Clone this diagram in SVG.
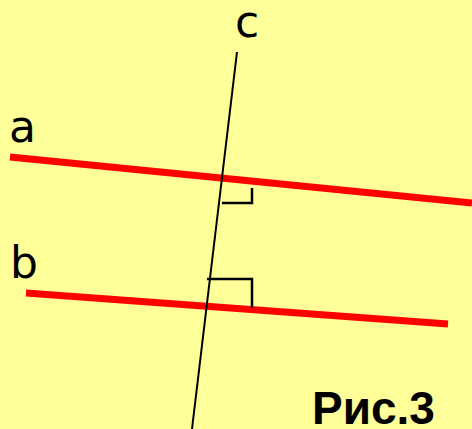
<svg xmlns="http://www.w3.org/2000/svg" width="472" height="429" viewBox="0 0 472 429">
<style>
.red{stroke:#FF0000;stroke-width:7;fill:none}
.blk{stroke:#000;stroke-width:2;fill:none}
.mark{stroke:#000;stroke-width:2.5;fill:none}
.lbl{font-family:"Comic Sans MS","DejaVu Sans","Liberation Sans",sans-serif;font-size:44px;fill:#000}
.cap{font-family:"Comic Sans MS","Liberation Sans",sans-serif;font-size:46px;font-weight:bold;fill:#000}
</style>
<rect width="472" height="429" fill="#FFFF99"/>
<g id="connectors">
<line id="line-a" class="red" x1="10" y1="157" x2="472" y2="203"/>
<line id="line-b" class="red" x1="26" y1="293" x2="448" y2="324"/>
<line id="line-c" class="blk" x1="237" y1="52" x2="192" y2="429"/>
<polyline id="angle-a" class="mark" points="222,203 252,203 252,188"/>
<polyline id="angle-b" class="mark" points="207,279 252,279 252,308"/>
</g>
<g id="label-a"><text class="lbl" x="9" y="142">a</text></g>
<g id="label-b"><text class="lbl" x="10" y="278">b</text></g>
<g id="label-c"><text class="lbl" x="235" y="37">c</text></g>
<g id="caption"><text class="cap" x="312" y="424">Рис.3</text></g>
</svg>
